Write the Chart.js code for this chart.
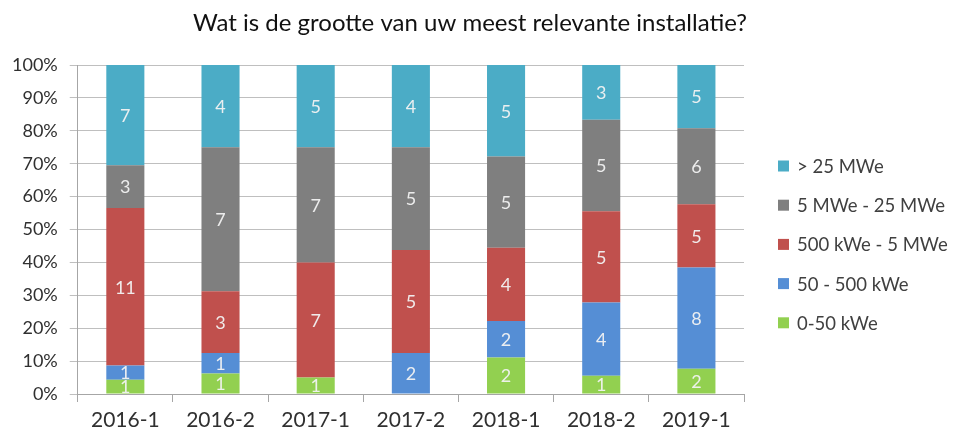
<!DOCTYPE html>
<html>
<head>
<meta charset="utf-8">
<script src="https://cdn.jsdelivr.net/npm/chart.js@4/dist/chart.umd.min.js"></script>
<style>
  html, body { margin: 0; padding: 0; background: #fff; }
  #wrap { width: 957px; height: 430px; }
</style>
</head>
<body>
<div id="wrap"><canvas id="installChart"></canvas></div>
<script>
const chartTitle = 'Wat is de grootte van uw meest relevante installatie?';
const periods = ['2016-1', '2016-2', '2017-1', '2017-2', '2018-1', '2018-2', '2019-1'];
const sizeLabels = ['0-50 kWe', '50 - 500 kWe', '500 kWe - 5 MWe', '5 MWe - 25 MWe', '> 25 MWe'];
const sizeColors = ['#92D050', '#558ED5', '#C0504D', '#7F7F7F', '#4BACC6'];

// aantal respondenten per grootteklasse
const small = [1, 1, 1, 0, 2, 1, 2];
const medium = [1, 1, 0, 2, 2, 4, 8];
const large = [11, 3, 7, 5, 4, 5, 5];
const xlarge = [3, 7, 7, 5, 5, 5, 6];
const huge = [7, 4, 5, 4, 5, 3, 5];

const yTicks = [0, 10, 20, 30, 40, 50, 60, 70, 80, 90, 100];

const counts = [small, medium, large, xlarge, huge];
const totals = periods.map((p, i) => counts.reduce((s, arr) => s + arr[i], 0));

const barLabels = {
    id: 'barLabels',
    afterDatasetsDraw(chart) {
        const c = chart.ctx;
        c.save();
        c.font = '18px Lato';
        c.fillStyle = 'rgba(242,242,242,0.95)';
        c.textAlign = 'center';
        c.textBaseline = 'middle';
        chart.data.datasets.forEach((ds, di) => {
            const meta = chart.getDatasetMeta(di);
            meta.data.forEach((bar, i) => {
                const n = counts[di][i];
                if (!n) return;
                const p = bar.getProps(['x', 'y', 'base'], true);
                c.fillText(String(n), p.x, (p.y + p.base) / 2 + 1);
            });
        });
        c.restore();
    }
};

// titel en legenda los getekend, zoals in het Excel-origineel
const sideLegend = {
    id: 'sideLegend',
    afterDraw(chart) {
        const c = chart.ctx;
        c.save();
        c.font = '24px Lato';
        c.fillStyle = '#111';
        c.textAlign = 'center';
        c.textBaseline = 'alphabetic';
        c.fillText(chartTitle, 470, 31);

        c.textAlign = 'left';
        c.font = '18.5px Lato';
        c.textBaseline = 'middle';
        const n = chart.data.datasets.length;
        for (let k = 0; k < n; k++) {
            const ds = chart.data.datasets[n - 1 - k];
            const y = 166 + k * 39.2;
            c.fillStyle = ds.backgroundColor;
            c.fillRect(778, y - 5.5, 11, 11);
            c.fillStyle = '#404040';
            c.fillText(ds.label, 797, y + 1);
        }
        c.restore();
    }
};

const ctx = document.getElementById('installChart').getContext('2d');
const chart = new Chart(ctx, {
    type: 'bar',
    data: {
        labels: periods,
        datasets: counts.map((arr, di) => ({
            label: sizeLabels[di],
            data: arr.map((v, i) => v / totals[i] * 100),
            backgroundColor: sizeColors[di],
            borderWidth: 0,
            barPercentage: 0.5,
            categoryPercentage: 0.8
        }))
    },
    options: {
        responsive: true,
        maintainAspectRatio: false,
        animation: false,
        layout: { padding: { left: 0, right: 213, top: 65, bottom: -9 } },
        plugins: {
            legend: { display: false },
            tooltip: { enabled: false },
            title: { display: false }
        },
        scales: {
            x: {
                stacked: true,
                grid: { drawOnChartArea: false, color: '#a6a6a6', tickLength: 8 },
                border: { color: '#a6a6a6' },
                ticks: { color: '#303030', font: { family: 'Lato', size: 21, lineHeight: 1 }, padding: 8 }
            },
            y: {
                stacked: true,
                min: 0,
                max: 100,
                afterBuildTicks(axis) { axis.ticks = yTicks.map(v => ({ value: v })); },
                grid: { color: '#bfbfbf', tickLength: 8 },
                border: { color: '#a6a6a6' },
                ticks: {
                    color: '#303030',
                    font: { family: 'Lato', size: 18 },
                    padding: 12,
                    callback: v => v + '%'
                }
            }
        }
    },
    plugins: [barLabels, sideLegend]
});
</script>
</body>
</html>
